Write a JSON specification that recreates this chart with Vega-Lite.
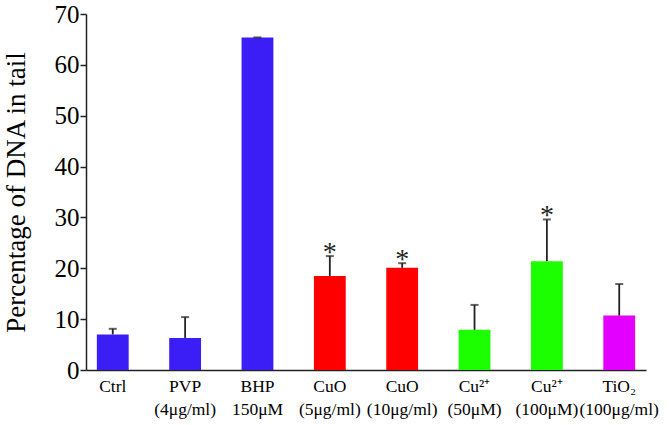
{
  "$schema": "https://vega.github.io/schema/vega-lite/v6.json",
  "width": 560,
  "height": 356,
  "autosize": "none",
  "padding": {"left": 86, "top": 14, "right": 23, "bottom": 55},
  "background": "white",
  "config": {"view": {"stroke": null}, "font": "Liberation Serif"},
  "data": {
    "values": [
      {"group": "Ctrl", "agent": "control", "mean": 7.0, "upper": 8.1, "sig": ""},
      {"group": "PVP\n(4μg/ml)", "agent": "control", "mean": 6.3, "upper": 10.4, "sig": ""},
      {"group": "BHP\n150μM", "agent": "control", "mean": 65.4, "upper": 65.4, "sig": ""},
      {"group": "CuO\n(5μg/ml)", "agent": "CuO", "mean": 18.5, "upper": 22.4, "sig": "*"},
      {"group": "CuO\n(10μg/ml)", "agent": "CuO", "mean": 20.1, "upper": 21.0, "sig": "*"},
      {"group": "Cu²⁺\n(50μM)", "agent": "Cu2+", "mean": 7.9, "upper": 12.8, "sig": ""},
      {"group": "Cu²⁺\n(100μM)", "agent": "Cu2+", "mean": 21.4, "upper": 29.6, "sig": "*"},
      {"group": "TiO₂\n(100μg/ml)", "agent": "TiO2", "mean": 10.7, "upper": 16.9, "sig": ""}
    ]
  },
  "encoding": {
    "x": {
      "field": "group",
      "type": "nominal",
      "sort": null,
      "scale": {"paddingInner": 0.56, "paddingOuter": 0.15},
      "axis": {
        "title": null,
        "labelAngle": 0,
        "labelExpr": "split(datum.label, '\\n')",
        "labelFont": "Liberation Serif",
        "labelFontSize": 17.5,
        "labelColor": "black",
        "labelLineHeight": 23,
        "labelPadding": 7,
        "ticks": false,
        "domainColor": "#222",
        "domainWidth": 1.5,
        "labelOverlap": false,
        "labelBound": false
      }
    }
  },
  "layer": [
    {
      "mark": {"type": "bar"},
      "encoding": {
        "y": {
          "field": "mean",
          "type": "quantitative",
          "scale": {"domain": [0, 70], "nice": false},
          "axis": {
            "title": "Percentage of DNA in tail",
            "titleFont": "Liberation Serif",
            "titleFontSize": 27,
            "titleFontWeight": "normal",
            "titleColor": "black",
            "titlePadding": 24,
            "values": [0, 10, 20, 30, 40, 50, 60, 70],
            "labelFont": "Liberation Serif",
            "labelFontSize": 25,
            "labelColor": "black",
            "labelPadding": 1,
            "tickSize": 6,
            "tickColor": "#222",
            "tickWidth": 1.5,
            "domainColor": "#222",
            "domainWidth": 1.5,
            "grid": false
          }
        },
        "color": {
          "field": "agent",
          "type": "nominal",
          "scale": {"domain": ["control", "CuO", "Cu2+", "TiO2"], "range": ["#3a1ef5", "#ff0000", "#1cff00", "#e400ff"]},
          "legend": null
        }
      }
    },
    {
      "mark": {"type": "rule", "color": "#222", "strokeWidth": 1.8},
      "encoding": {
        "y": {"field": "mean", "type": "quantitative"},
        "y2": {"field": "upper"}
      }
    },
    {
      "mark": {"type": "tick", "color": "#222", "size": 8, "thickness": 2},
      "encoding": {
        "y": {"field": "upper", "type": "quantitative"}
      }
    },
    {
      "transform": [{"filter": "datum.sig == '*'"}],
      "mark": {"type": "text", "font": "Liberation Serif", "fontSize": 28, "baseline": "alphabetic", "dy": 5, "color": "#222"},
      "encoding": {
        "y": {"field": "upper", "type": "quantitative"},
        "text": {"field": "sig"}
      }
    }
  ]
}
